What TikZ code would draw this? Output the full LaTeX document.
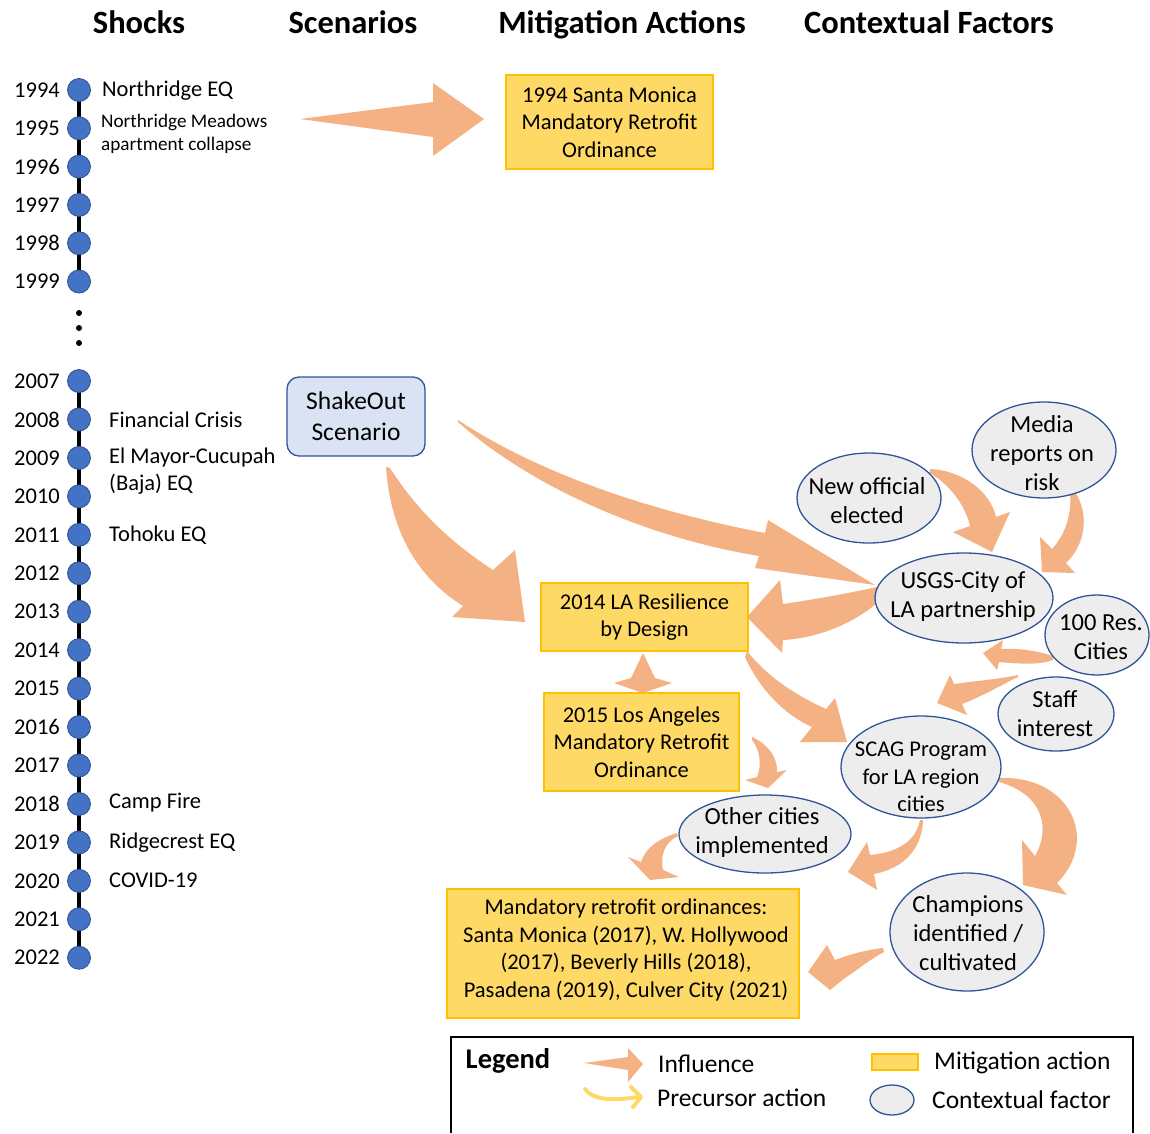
\documentclass[tikz,border=0pt]{standalone}
\usepackage{fontspec}
\setmainfont{Carlito}
\usetikzlibrary{shapes.geometric,backgrounds}
\definecolor{inflc}{HTML}{F4B183}
\definecolor{actfill}{HTML}{FFD966}
\definecolor{actdraw}{HTML}{FFC000}
\definecolor{ctxfill}{HTML}{EDEDED}
\definecolor{ctxdraw}{HTML}{2F5597}
\definecolor{scenfill}{HTML}{DAE3F3}
\definecolor{dotfill}{HTML}{4472C4}
\definecolor{dotdraw}{HTML}{2F528F}
\definecolor{precc}{HTML}{FFD966}
\begin{document}
\begin{tikzpicture}[x=1pt,y=-1pt,
  body/.style={font=\fontsize{22.5}{27.5}\selectfont, align=center, inner sep=0pt},
  cbody/.style={font=\fontsize{24.5}{29}\selectfont, align=center, inner sep=0pt},
  hdr/.style={font=\fontsize{32.5}{36}\selectfont\bfseries, inner sep=0pt, anchor=base},
  act/.style={body, rectangle, fill=actfill, draw=actdraw, line width=1.6pt},
  ctx/.style={ellipse, fill=ctxfill, draw=ctxdraw, line width=1.3pt, inner sep=0pt},
  scen/.style={rectangle, rounded corners=12pt, fill=scenfill, draw=ctxdraw, line width=1.3pt, align=center, inner sep=0pt},
  ydot/.style={circle, fill=dotfill, draw=dotdraw, line width=0.8pt, minimum size=23pt, inner sep=0pt},
  yr/.style={font=\fontsize{22.5}{25}\selectfont, anchor=east, inner sep=0pt},
  ev/.style={font=\fontsize{22.5}{27}\selectfont, anchor=west, inner sep=0pt, align=left},
  evs/.style={font=\fontsize{19.2}{23}\selectfont, anchor=west, inner sep=0pt, align=left},
  lg/.style={font=\fontsize{25.5}{28}\selectfont, anchor=west, inner sep=0pt},
  blk/.style={fill=inflc},
]
\useasboundingbox (0,0) rectangle (1150,1133);

% headings
\node[hdr] (hShocks) at (139,33) {Shocks};
\node[hdr] (hScen) at (353,33) {Scenarios};
\node[hdr] (hMit) at (622,33) {Mitigation Actions};
\node[hdr] (hCtx) at (929,33) {Contextual Factors};

% timeline
\foreach \yv [count=\i from 0] in {1994,1995,1996,1997,1998,1999} {
  \node[ydot] (d\yv) at (79,{90+38.3*\i}) {};
  \node[yr] (y\yv) at (60,{90+38.3*\i}) {\yv};
}
\foreach \yv [count=\i from 0] in {2007,2008,2009,2010,2011,2012,2013,2014,2015,2016,2017,2018,2019,2020,2021,2022} {
  \node[ydot] (d\yv) at (79,{381+38.45*\i}) {};
  \node[yr] (y\yv) at (60,{381+38.45*\i}) {\yv};
}
\begin{scope}[on background layer]
\draw[line width=4pt] (d1994.center) -- (d1999.center);
\draw[line width=4pt] (d2007.center) -- (d2022.center);
\end{scope}
\fill (79,313) circle (3pt) (79,328) circle (3pt) (79,343) circle (3pt);

% events
\node[ev] (eNorth) at (102,91) {Northridge EQ};
\node[evs] (eMead) at (101,122) {Northridge Meadows};
\node[evs] (eMead2) at (101,145) {apartment collapse};
\node[ev] (eFin) at (109,420) {Financial Crisis};
\node[ev] (eBaja) at (109,457) {El Mayor-Cucupah};
\node[ev] (eBaja2) at (109,484) {(Baja) EQ};
\node[ev] (eToh) at (109,535) {Tohoku EQ};
\node[ev] (eCamp) at (109,803) {Camp Fire};
\node[ev] (eRidge) at (109,843) {Ridgecrest EQ};
\node[ev] (eCovid) at (109,880) {COVID-19};

% scenario
\node[scen, minimum width=138pt, minimum height=79pt, font=\fontsize{25.5}{31}\selectfont] (shake) at (356,416.5) {ShakeOut\\Scenario};

% mitigation actions
\node[act, minimum width=207pt, minimum height=94pt] (sm94) at (609.5,122) {1994 Santa Monica\\Mandatory Retrofit\\Ordinance};
\node[act, minimum width=207pt, minimum height=68pt] (rbd) at (644.5,617) {2014 LA Resilience\\by Design};
\node[act, minimum width=195pt, minimum height=98pt] (la15) at (641.5,742) {2015 Los Angeles\\Mandatory Retrofit\\Ordinance};
\node[act, minimum width=352pt, minimum height=129pt] (mro) at (623,953.5) {};
\node[body] (mroT) at (626,950) {Mandatory retrofit ordinances:\\Santa Monica (2017), W. Hollywood\\(2017), Beverly Hills (2018),\\Pasadena (2019), Culver City (2021)};

% contextual factors
\node[ctx, minimum width=144pt, minimum height=96pt] (media) at (1044,450) {};
\node[cbody] (mediaT) at (1042,453) {Media\\reports on\\risk};
\node[ctx, minimum width=144pt, minimum height=90pt] (newo) at (869,498) {};
\node[cbody] (newoT) at (867,501) {New official\\elected};
\node[ctx, minimum width=178pt, minimum height=90pt] (usgs) at (964,598) {};
\node[cbody] (usgsT) at (963,597) {USGS-City of\\LA partnership};
\node[ctx, minimum width=104pt, minimum height=80pt] (res) at (1097,635) {};
\node[cbody] (resT) at (1101,637) {100 Res.\\Cities};
\node[ctx, minimum width=116pt, minimum height=74pt] (staff) at (1056,714) {};
\node[cbody] (staffT) at (1055,714) {Staff\\interest};
\node[ctx, minimum width=160pt, minimum height=102pt] (scag) at (921,767) {};
\node[body] (scagT) at (921,777) {SCAG Program\\for LA region\\cities};
\node[ctx, minimum width=172pt, minimum height=78pt] (other) at (765,834) {};
\node[cbody] (otherT) at (762,832) {Other cities\\implemented};
\node[ctx, minimum width=154pt, minimum height=118pt] (champ) at (967,932) {};
\node[cbody] (champT) at (968,933) {Champions\\identified /\\cultivated};

% influence arrows
\begin{scope}[on background layer]
% Northridge -> 1994 ordinance
\fill[blk] (300,119) -- (433,102) -- (433,83) -- (484,119) -- (433,156) -- (433,137) -- cycle;
% ShakeOut -> USGS
\fill[blk] (458,420) .. controls (540,474) and (650,511) .. (765,533) -- (768,520) -- (875,585) -- (755,568) -- (759,556) .. controls (650,538) and (535,490) .. (458,422) -- cycle;
% ShakeOut -> 2014
\fill[blk] (390,468) .. controls (420,515) and (455,545) .. (493,570) -- (515,550) -- (525,622) -- (452,617) -- (463,606) .. controls (412,574) and (390,524) .. (386,467) -- cycle;
% USGS -> 2014
\fill[blk] (877,587) .. controls (840,595) and (810,600) .. (783,604) -- (780,580) -- (747,617) -- (782,653) -- (783,640) .. controls (820,638) and (855,622) .. (877,603) -- cycle;
% New official -> USGS
\fill[blk] (930,469) .. controls (960,470) and (990,490) .. (996,517) -- (1010,512) -- (992,552) -- (953,532) -- (970,526) .. controls (965,505) and (950,485) .. (930,473) -- cycle;
% Media -> USGS
\fill[blk] (1075,492) .. controls (1090,515) and (1085,545) .. (1066,563) -- (1075,573) -- (1042,572) -- (1040,537) -- (1052,549) .. controls (1065,535) and (1072,515) .. (1070,492) -- cycle;
% 100 Res -> USGS
\fill[blk] (1053,656) .. controls (1035,650) and (1015,648) .. (1001,649) -- (1003,640) -- (983,653) -- (997,670) -- (999,662) .. controls (1020,664) and (1040,665) .. (1053,660) -- cycle;
% Staff -> SCAG
\fill[blk] (1018,675) .. controls (1000,679) and (975,681) .. (954,684) -- (950,675) -- (937,703) -- (967,715) -- (962,704) .. controls (985,695) and (1005,683) .. (1018,677) -- cycle;
% 2014 -> SCAG
\fill[blk] (747,651) .. controls (770,680) and (800,697) .. (826,709) -- (835,698) -- (847,742) -- (800,742) -- (812,727) .. controls (785,715) and (760,690) .. (745,657) -- cycle;
% 2014 -> 2015
\fill[blk] (643,653) -- (655,678) -- (672,683) -- (643,693) -- (614,683) -- (631,678) -- cycle;
% 2015 -> Other cities
\fill[blk] (752,737) .. controls (768,744) and (778,758) .. (777,772) -- (787,770) -- (768,788) -- (745,780) -- (757,777) .. controls (762,765) and (760,750) .. (752,740) -- cycle;
% Other cities -> mandatory ordinances
\fill[blk] (677,833) .. controls (660,838) and (645,848) .. (641,862) -- (628,857) -- (650,880) -- (679,877) -- (663,870) .. controls (660,855) and (665,842) .. (678,836) -- cycle;
% SCAG -> mandatory ordinances
\fill[blk] (920,820) .. controls (916,840) and (900,852) .. (870,855) -- (867,842) -- (848,872) -- (877,890) -- (874,874) .. controls (905,868) and (922,848) .. (923,820) -- cycle;
% SCAG -> Champions
\fill[blk] (999,778) .. controls (1070,775) and (1100,840) .. (1057,883) -- (1067,895) -- (1023,885) -- (1022,840) -- (1035,856) .. controls (1050,830) and (1045,795) .. (999,782) -- cycle;
% Champions -> mandatory ordinances
\fill[blk] (883,948) .. controls (865,950) and (848,955) .. (835,960) -- (827,945) -- (808,972) -- (830,990) -- (845,978) .. controls (860,968) and (872,958) .. (884,952) -- cycle;
\end{scope}

% legend
\draw[line width=1.8pt] (451,1133) -- (451,1037) -- (1133,1037) -- (1133,1133);
\node[font=\fontsize{28.5}{30}\selectfont\bfseries, inner sep=0pt] (legT) at (508,1061) {Legend};
\fill[blk] (584,1063) -- (628,1057) -- (628,1048) -- (643,1064) -- (628,1082) -- (628,1070) -- cycle;
\node[lg] (legInf) at (658,1064) {Influence};
\draw[precc, line width=4pt, line cap=round] (585,1089) .. controls (593,1100) and (612,1101) .. (638,1097);
\draw[precc, line width=4pt, line cap=round, line join=round] (631,1087) -- (641,1097) -- (633,1107);
\node[lg] (legPre) at (657,1098) {Precursor action};
\node[rectangle, fill=actfill, draw=actdraw, line width=1.6pt, minimum width=46pt, minimum height=16pt, inner sep=0pt] (legAct) at (895,1062) {};
\node[lg] (legActT) at (934,1063) {Mitigation action};
\node[ctx, minimum width=44pt, minimum height=30pt] (legCtx) at (892,1100) {};
\node[lg] (legCtxT) at (932,1100) {Contextual factor};
\end{tikzpicture}
\end{document}
